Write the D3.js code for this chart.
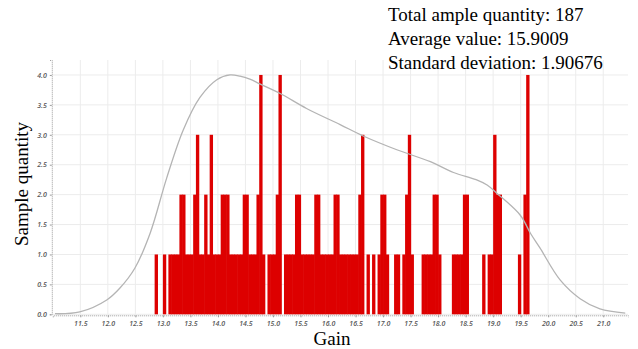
<!DOCTYPE html>
<html>
<head>
<meta charset="utf-8">
<script src="https://cdn.jsdelivr.net/npm/d3@7"></script>
<style>
  html, body { margin: 0; padding: 0; background: #fff; }
  svg { display: block; }
</style>
</head>
<body>
<div id="chart"></div>
<script>
// histogram bins: lower edge of the first bin, bin width and counts per bin
const binStart = 12.80;
const binWidth = 0.05;
const binCounts = [
    0, 1, 0, 0, 1, 0, 1, 1, 1, 1,
    2, 2, 1, 1, 1, 2, 3, 1, 1, 2,
    1, 3, 1, 1, 1, 2, 2, 2, 1, 1,
    1, 1, 1, 2, 2, 1, 1, 1, 2, 4,
    1, 0, 1, 1, 1, 2, 4, 0, 1, 1,
    1, 1, 2, 2, 1, 1, 1, 1, 1, 2,
    2, 1, 1, 1, 1, 1, 2, 2, 1, 1,
    1, 1, 1, 1, 1, 2, 3, 0, 1, 0,
    1, 0, 1, 2, 2, 1, 0, 0, 1, 1,
    0, 1, 2, 3, 1, 0, 0, 0, 1, 1,
    1, 1, 2, 2, 1, 0, 0, 0, 0, 1,
    1, 1, 1, 2, 2, 0, 0, 0, 0, 0,
    1, 0, 1, 1, 3, 2, 2, 0, 0, 0,
    0, 0, 0, 1, 0, 2, 4
];

// fitted distribution curve (gain, sample quantity)
const curveGain = [11.04, 11.49, 11.98, 12.22, 12.49, 12.77, 13.07, 13.37, 13.67, 13.98,
    14.22, 14.40, 14.58, 14.76, 15.13, 15.61, 16.22, 16.64, 17.25, 17.86,
    18.28, 18.69, 18.89, 19.07, 19.49, 19.68, 19.85, 20.22, 20.58, 20.94, 21.40];
const curveValue = [0.01, 0.04, 0.24, 0.44, 0.77, 1.36, 2.28, 3.08, 3.62, 3.92,
    4.00, 3.98, 3.93, 3.85, 3.69, 3.44, 3.17, 2.98, 2.75, 2.55,
    2.37, 2.25, 2.16, 2.02, 1.66, 1.35, 1.11, 0.57, 0.26, 0.09, 0.02];

const xTicks = d3.range(23).map(i => 11.5 + i * 0.5).filter(v => v <= 21.0);
const yTicks = [0, 0.5, 1.0, 1.5, 2.0, 2.5, 3.0, 3.5, 4.0];

const statLines = [
    'Total ample quantity: 187',
    'Average value: 15.9009',
    'Standard deviation: 1.90676'
];

const width = 638, height = 349;

const svg = d3.select('#chart')
    .append('svg')
    .attr('width', width)
    .attr('height', height);

const x = d3.scaleLinear().domain([11.0, 21.45]).range([52.8, 628]);
const y = d3.scaleLinear().domain([0, 4.25]).range([314.3, 60]);

// grid
svg.append('g')
    .selectAll('line')
    .data(yTicks)
    .enter()
    .append('line')
    .attr('x1', x(11.0))
    .attr('x2', x(21.45))
    .attr('y1', d => y(d))
    .attr('y2', d => y(d))
    .attr('stroke', '#ececec')
    .attr('stroke-width', 1);

svg.append('g')
    .selectAll('line')
    .data(xTicks)
    .enter()
    .append('line')
    .attr('x1', d => x(d))
    .attr('x2', d => x(d))
    .attr('y1', y(0))
    .attr('y2', y(4.25))
    .attr('stroke', '#ececec')
    .attr('stroke-width', 1);

// histogram bars
const bins = binCounts.map((c, i) => ({ x0: binStart + i * binWidth, count: c }))
    .filter(d => d.count > 0);

svg.append('g')
    .selectAll('rect')
    .data(bins)
    .enter()
    .append('rect')
    .attr('x', d => x(d.x0))
    .attr('width', d => x(d.x0 + binWidth) - x(d.x0) + 0.6)
    .attr('y', d => y(d.count))
    .attr('height', d => y(0) - y(d.count))
    .attr('fill', '#dd0000');

// distribution curve
const line = d3.line()
    .x((d, i) => x(curveGain[i]))
    .y(d => y(d))
    .curve(d3.curveCatmullRom.alpha(0.5));

svg.append('path')
    .datum(curveValue)
    .attr('d', line)
    .attr('fill', 'none')
    .attr('stroke', '#b4b4b4')
    .attr('stroke-width', 1.3);

// axes
const xAxis = d3.axisBottom(x)
    .tickValues(xTicks)
    .tickFormat(d3.format('.1f'))
    .tickSize(2)
    .tickPadding(4);

const gx = svg.append('g')
    .attr('transform', `translate(0,${y(0) + 1})`)
    .call(xAxis);

const yAxis = d3.axisLeft(y)
    .tickValues(yTicks)
    .tickFormat(d3.format('.1f'))
    .tickSize(2)
    .tickPadding(3);

const gy = svg.append('g')
    .attr('transform', `translate(${x(11.0) - 1},0)`)
    .call(yAxis);

[gx, gy].forEach(g => {
    g.select('.domain')
        .attr('stroke', '#9a9a9a')
        .attr('stroke-dasharray', '1,1');
    g.selectAll('.tick line').attr('stroke', '#9a9a9a');
    g.selectAll('.tick text')
        .attr('fill', '#555')
        .style('font-family', '"Open Sans", sans-serif')
        .style('font-size', '7px')
        .style('font-style', 'italic')
        .style('font-weight', '600');
});

// axis titles
svg.append('text')
    .attr('x', 332)
    .attr('y', 345)
    .attr('text-anchor', 'middle')
    .style('font-family', '"Liberation Serif", "Times New Roman", serif')
    .style('font-size', '19px')
    .text('Gain');

svg.append('text')
    .attr('transform', 'translate(28,184) rotate(-90)')
    .attr('text-anchor', 'middle')
    .style('font-family', '"Liberation Serif", "Times New Roman", serif')
    .style('font-size', '19px')
    .text('Sample quantity');

// statistics
svg.append('g')
    .selectAll('text')
    .data(statLines)
    .enter()
    .append('text')
    .attr('x', 388)
    .attr('y', (d, i) => 21 + i * 24)
    .style('font-family', '"Liberation Serif", "Times New Roman", serif')
    .style('font-size', '19px')
    .text(d => d);
</script>
</body>
</html>
